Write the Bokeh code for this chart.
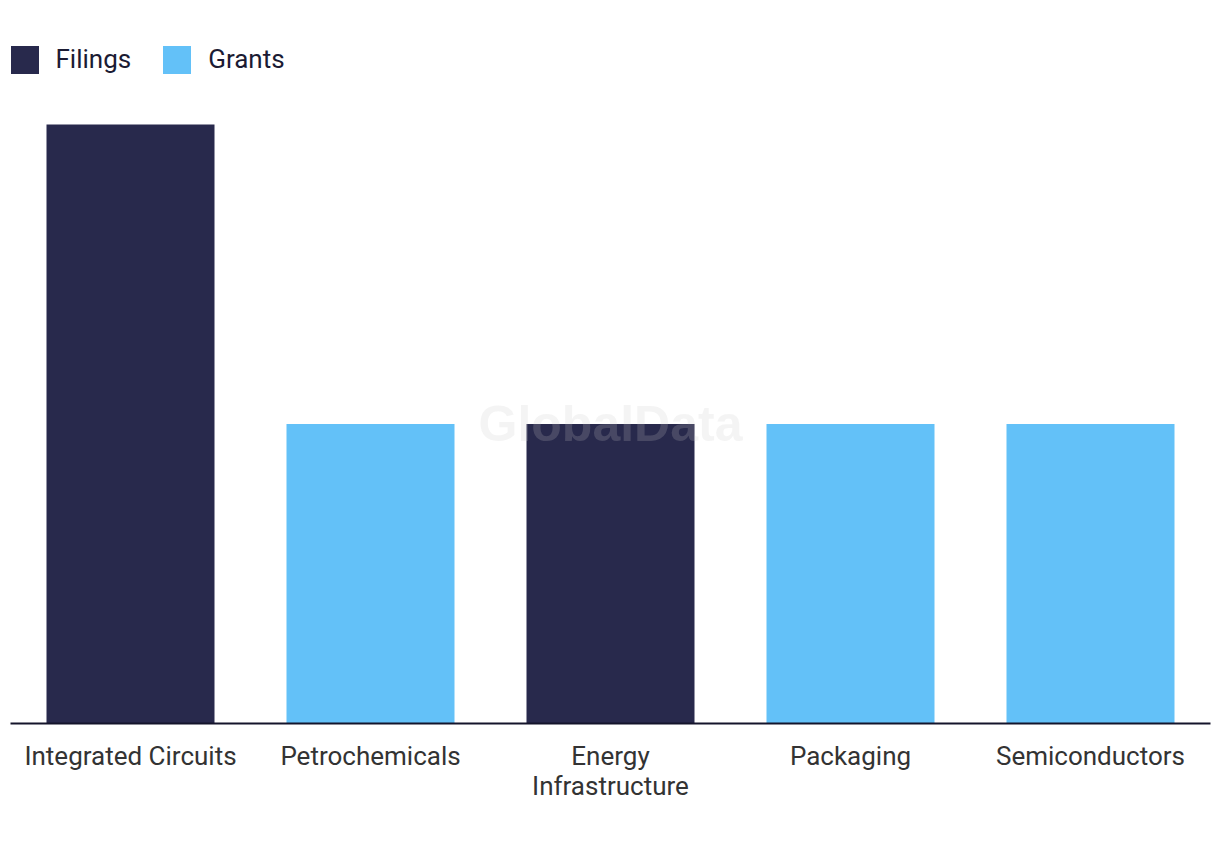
from bokeh.plotting import figure
from bokeh.models import ColumnDataSource, FactorRange, Range1d, Legend, LegendItem, Label, CategoricalAxis
from bokeh.embed import file_html
from bokeh.resources import INLINE

categories = ["Integrated Circuits", "Petrochemicals", "Energy Infrastructure", "Packaging", "Semiconductors"]
values = [2, 1, 1, 1, 1]
series = ["Filings", "Grants", "Filings", "Grants", "Grants"]
series_colors = {"Filings": "#28294C", "Grants": "#63C1F8"}
wrapped_labels = {"Energy Infrastructure": ["Energy", "Infrastructure"]}

FONT = "Roboto"
FONT_SIZE = "26px"

src = ColumnDataSource(dict(
    cat=categories,
    val=values,
    series=series,
    color=[series_colors[s] for s in series],
))

frame_top_px = 45
baseline_px = 723
top_val_px = 124
y_end = max(values) * (baseline_px - frame_top_px) / (baseline_px - top_val_px)

# display factors for the two label lines (blank lines must be unique factors)
line1 = [wrapped_labels[c][0] if c in wrapped_labels else c for c in categories]
line2 = [wrapped_labels[c][1] if c in wrapped_labels else " " * (i + 1) for i, c in enumerate(categories)]

p = figure(
    x_range=FactorRange(*categories, range_padding=0),
    y_range=Range1d(0, y_end),
    width=1212, height=830,
    min_border_left=10, min_border_right=2,
    min_border_top=frame_top_px, min_border_bottom=830 - baseline_px,
    output_backend="svg", toolbar_location=None,
)
p.extra_x_ranges = {
    "line1": FactorRange(*line1, range_padding=0),
    "line2": FactorRange(*line2, range_padding=0),
}
p.outline_line_color = None
p.xgrid.visible = False
p.ygrid.visible = False
p.yaxis.visible = False
p.xaxis.visible = False

r = p.vbar(x="cat", top="val", width=0.7, color="color", source=src, line_color=None)

def make_axis(range_name, standoff, tick_out):
    a = CategoricalAxis(x_range_name=range_name)
    a.major_tick_line_color = None
    a.minor_tick_line_color = None
    a.major_tick_out = tick_out
    a.major_tick_in = 0
    a.major_label_standoff = standoff
    a.major_label_text_font = FONT
    a.major_label_text_font_size = FONT_SIZE
    a.major_label_text_color = "#333333"
    return a

ax1 = make_axis("line1", 11, 6)
ax1.axis_line_color = "#14142B"
ax1.axis_line_width = 2
p.add_layout(ax1, "below")

ax2 = make_axis("line2", -3, 0)
ax2.axis_line_color = None
p.add_layout(ax2, "below")

wm = Label(x=2.5, y=1.0, text="GlobalData", text_align="center", text_baseline="middle",
           text_font="Liberation Sans", text_font_style="bold", text_font_size="50px",
           text_color="#C8C8C8", text_alpha=0.2)
p.add_layout(wm)

legend_items = []
for s in ["Filings", "Grants"]:
    idx = series.index(s)
    legend_items.append(LegendItem(label=s, renderers=[r], index=idx))

legend = Legend(items=legend_items, location=(-3.5, (baseline_px - frame_top_px) - 35 + 3.5),
                orientation="horizontal",
                margin=0, padding=0, spacing=28, label_standoff=14,
                glyph_width=35, glyph_height=35,
                label_text_font=FONT, label_text_font_size=FONT_SIZE, label_text_color="#1B1B33",
                border_line_color=None, background_fill_alpha=0)
p.add_layout(legend)

open("out.html", "w").write(file_html(p, INLINE))
